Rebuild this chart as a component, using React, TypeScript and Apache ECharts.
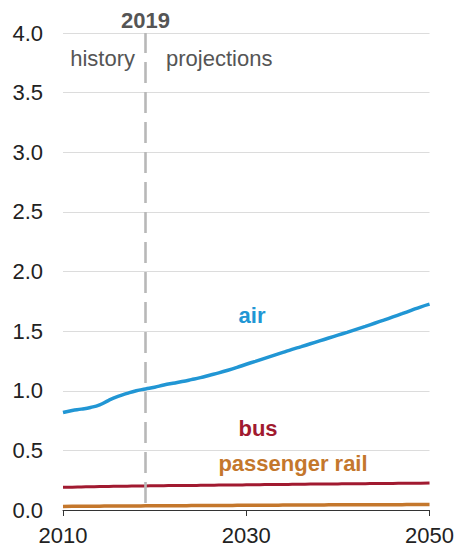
import React, { useEffect, useRef } from "react";
import * as echarts from "echarts";

const years: string[] = [];
for (let y = 2010; y <= 2050; y++) years.push(String(y));

const air = [
  0.818, 0.835, 0.846, 0.86, 0.882, 0.92, 0.952, 0.978, 1.0, 1.015,
  1.03, 1.048, 1.063, 1.077, 1.093, 1.11, 1.13, 1.15, 1.172, 1.196,
  1.222, 1.247, 1.272, 1.297, 1.322, 1.347, 1.37, 1.394, 1.418, 1.442,
  1.466, 1.49, 1.515, 1.54, 1.566, 1.592, 1.619, 1.646, 1.674, 1.702, 1.726,
];
const bus = [
  0.19, 0.191, 0.193, 0.195, 0.197, 0.198, 0.199, 0.2, 0.201, 0.202,
  0.203, 0.204, 0.205, 0.206, 0.206, 0.207, 0.208, 0.209, 0.21, 0.21,
  0.211, 0.212, 0.213, 0.214, 0.214, 0.215, 0.216, 0.217, 0.217, 0.218,
  0.219, 0.22, 0.22, 0.221, 0.222, 0.223, 0.223, 0.224, 0.225, 0.225, 0.226,
];
const rail = [
  0.03, 0.031, 0.031, 0.032, 0.032, 0.033, 0.033, 0.034, 0.034, 0.035,
  0.035, 0.035, 0.036, 0.036, 0.037, 0.037, 0.038, 0.038, 0.038, 0.039,
  0.039, 0.04, 0.04, 0.04, 0.041, 0.041, 0.042, 0.042, 0.042, 0.043,
  0.043, 0.043, 0.044, 0.044, 0.044, 0.045, 0.045, 0.045, 0.046, 0.046, 0.046,
];
const dividerYear = "2019";

const FONT = "'Liberation Sans', Arial, sans-serif";
const FS = 22;
const AIR = "#2196d4";
const BUS = "#a11a30";
const RAIL = "#c4772c";

export default function App() {
  const ref = useRef<HTMLDivElement>(null);
  useEffect(() => {
    if (!ref.current) return;
    const chart = echarts.init(ref.current, undefined, { renderer: "svg" });
    chart.setOption({
      animation: false,
      backgroundColor: "#ffffff",
      grid: { left: 63, right: 26, top: 33, bottom: 38 },
      xAxis: {
        type: "category",
        data: years,
        boundaryGap: false,
        axisLine: { show: true, lineStyle: { color: "#333333", width: 1 } },
        axisTick: { show: true, interval: 19, length: 6, lineStyle: { color: "#333333" } },
        axisLabel: {
          interval: 19,
          margin: 14,
          fontSize: FS,
          fontFamily: FONT,
          color: "#222222",
          showMaxLabel: true,
        },
        splitLine: { show: false },
      },
      yAxis: {
        type: "value",
        min: 0,
        max: 4,
        interval: 0.5,
        axisLine: { show: false },
        axisTick: { show: false },
        axisLabel: {
          margin: 20,
          fontSize: FS,
          fontFamily: FONT,
          color: "#222222",
          formatter: (v: number) => v.toFixed(1),
        },
        splitLine: { show: true, lineStyle: { color: "#dcdcdc", width: 1 } },
      },
      series: [
        {
          name: "passenger rail",
          type: "line",
          data: rail,
          smooth: true,
          showSymbol: false,
          lineStyle: { color: RAIL, width: 3.5 },
          z: 3,
          markLine: {
            silent: true,
            symbol: "none",
            lineStyle: { color: "#b8b8b8", width: 2.6, type: [21, 9], dashOffset: 23 },
            label: {
              show: true,
              position: "end",
              formatter: dividerYear,
              fontSize: FS,
              fontWeight: "bold",
              fontFamily: FONT,
              color: "#555555",
              distance: 2,
            },
            data: [{ xAxis: dividerYear }],
          },
        },
        {
          name: "bus",
          type: "line",
          data: bus,
          smooth: true,
          showSymbol: false,
          lineStyle: { color: BUS, width: 3 },
          z: 4,
        },
        {
          name: "air",
          type: "line",
          data: air,
          smooth: true,
          showSymbol: false,
          lineStyle: { color: AIR, width: 3.5 },
          z: 5,
        },
      ],
      graphic: [
        {
          type: "text",
          x: 135,
          y: 58,
          style: {
            text: "history",
            fontSize: FS,
            fontFamily: FONT,
            fill: "#555555",
            align: "right",
            verticalAlign: "middle",
          },
        },
        {
          type: "text",
          x: 166,
          y: 58,
          style: {
            text: "projections",
            fontSize: FS,
            fontFamily: FONT,
            fill: "#555555",
            align: "left",
            verticalAlign: "middle",
          },
        },
        {
          type: "text",
          x: 252,
          y: 315,
          style: {
            text: "air",
            fontSize: FS,
            fontWeight: "bold",
            fontFamily: FONT,
            fill: AIR,
            align: "center",
            verticalAlign: "middle",
          },
        },
        {
          type: "text",
          x: 258,
          y: 428,
          style: {
            text: "bus",
            fontSize: FS,
            fontWeight: "bold",
            fontFamily: FONT,
            fill: BUS,
            align: "center",
            verticalAlign: "middle",
          },
        },
        {
          type: "text",
          x: 293,
          y: 463,
          style: {
            text: "passenger rail",
            fontSize: FS,
            fontWeight: "bold",
            fontFamily: FONT,
            fill: RAIL,
            align: "center",
            verticalAlign: "middle",
          },
        },
      ],
    });
    return () => chart.dispose();
  }, []);
  return (
    <div
      ref={ref}
      style={{ position: "absolute", left: 0, top: 0, width: 457, height: 548 }}
    />
  );
}
